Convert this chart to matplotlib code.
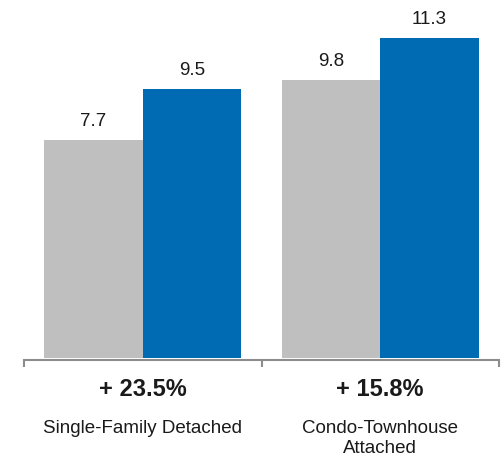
import matplotlib.pyplot as plt

plt.rcParams['font.family'] = ['Liberation Sans', 'DejaVu Sans']

# Values per housing type
categories = ['Single-Family Detached', 'Condo-Townhouse\nAttached']
prior = [7.7, 9.8]
current = [9.5, 11.3]
changes = ['+ 23.5%', '+ 15.8%']

gray = '#BFBFBF'
blue = '#006AB3'
width = 0.415

fig = plt.figure(figsize=(5.04, 4.57), dpi=100)
ax = fig.add_axes([24 / 504, 1 - 358 / 457, 475 / 504, 358 / 457])

x = list(range(len(categories)))
b1 = ax.bar([i - width / 2 for i in x], prior, width, color=gray)
b2 = ax.bar([i + width / 2 for i in x], current, width, color=blue)

for bars, vals in [(b1, prior), (b2, current)]:
    for rect, v in zip(bars, vals):
        ax.annotate(f'{v:.1f}', (rect.get_x() + rect.get_width() / 2, v),
                    xytext=(0, 10), textcoords='offset points',
                    ha='center', va='baseline', fontsize=13.5, color='#1a1a1a')

ax.set_xlim(-0.5, 1.5)
ax.set_ylim(0, 12.63)

for s in ['top', 'right', 'left']:
    ax.spines[s].set_visible(False)
ax.spines['bottom'].set_color('#8c8c8c')
ax.spines['bottom'].set_linewidth(1.5)
ax.spines['bottom'].set_position(('outward', 1.5))

ax.set_yticks([])
ax.set_xticks([])
ax.set_xticks([-0.5, 0.5, 1.5], minor=True)
ax.tick_params(axis='x', which='minor', direction='out', length=5,
               width=1.5, color='#8c8c8c', labelbottom=False)

# Change labels and category names under the axis
for i, (cat, chg) in enumerate(zip(categories, changes)):
    ax.text(i, -1.12, chg, ha='center', va='center', fontsize=17,
            fontweight='bold', color='#1a1a1a')
    ax.text(i, -2.17, cat, ha='center', va='top', fontsize=13.5,
            color='#1a1a1a', linespacing=1.3)

fig.savefig('out.png', dpi=100)
